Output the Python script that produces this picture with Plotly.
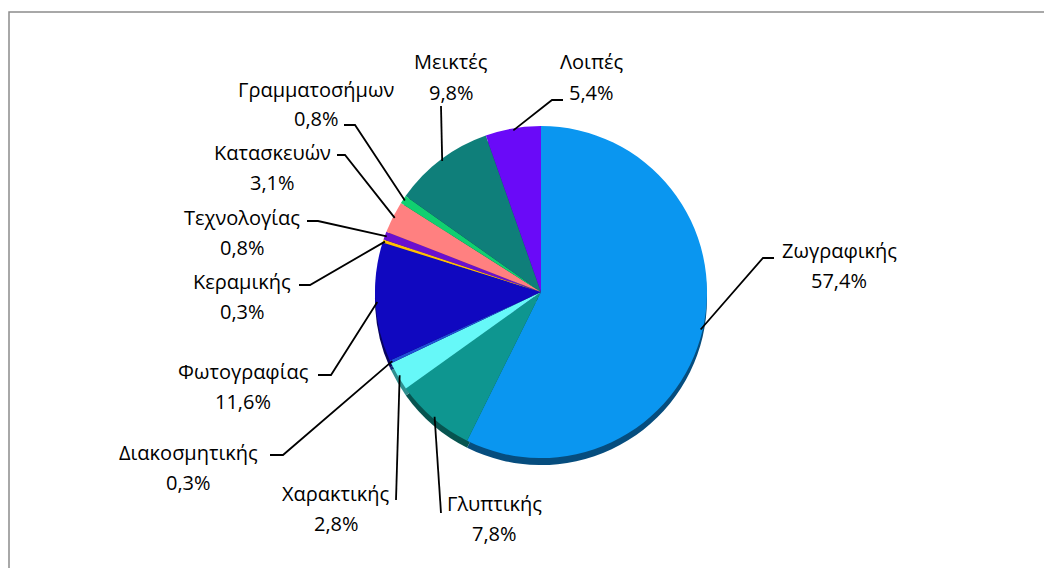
import math
import plotly.graph_objects as go

# ---- data ----
categories = ["Ζωγραφικής", "Γλυπτικής", "Χαρακτικής", "Διακοσμητικής", "Φωτογραφίας",
              "Κεραμικής", "Τεχνολογίας", "Κατασκευών", "Γραμματοσήμων", "Μεικτές", "Λοιπές"]
values = [57.4, 7.8, 2.8, 0.3, 11.6, 0.3, 0.8, 3.1, 0.8, 9.8, 5.4]
value_labels = ["57,4%", "7,8%", "2,8%", "0,3%", "11,6%", "0,3%", "0,8%", "3,1%", "0,8%", "9,8%", "5,4%"]

# ---- styles ----
colors = ["#0A96F0", "#0E9690", "#66F8F8", "#1F4FD8", "#1008C0", "#FFC000",
          "#6A10D0", "#FF8080", "#10D070", "#0F7F7A", "#6A0AF8"]
shadow_colors = ["#064D7E", "#075450", "#2E8F8F", "#0F2A75", "#08045F", "#8A6800",
                 "#3A0875", "#8A4444", "#077040", "#074540", "#3A0590"]

OFF = 8                     # browser body margin
W, H = 1052 - OFF, 568 - OFF
CX, CY, R = 541, 292, 166

# label layout (window pixel positions): name centre, and leader-line elbow/end points
label_pos = [(839, 250), (494, 503), (336, 493), (188, 452), (243, 371),
             (242, 281), (242, 217), (272, 152), (316, 89), (451, 62), (591, 62)]
leader_pts = [
    [(763, 258), (774, 258)],
    [(441, 513)],
    [(396, 500)],
    [(283, 455), (270, 455)],
    [(331, 375), (318, 375)],
    [(310, 285), (299, 285)],
    [(318, 221), (307, 221)],
    [(345, 155), (337, 155)],
    [(355, 125), (344, 125)],
    [(441, 106)],
    [(552, 100), (563, 100)],
]


def px(x):
    return (x - OFF) / W


def py(y):
    return 1 - (y - OFF) / H


fig = go.Figure()

# shadow pie (3D rim)
dy = 7
fig.add_trace(go.Pie(
    labels=categories, values=values, sort=False, direction="clockwise", rotation=0,
    marker=dict(colors=shadow_colors, line=dict(width=0)),
    textinfo="none", hoverinfo="skip", showlegend=False,
    domain=dict(x=[px(CX - R), px(CX + R)], y=[py(CY + dy + R), py(CY + dy - R)]),
))

fig.add_trace(go.Pie(
    labels=categories, values=values, sort=False, direction="clockwise", rotation=0,
    marker=dict(colors=colors, line=dict(width=0)),
    textinfo="none", showlegend=False,
    domain=dict(x=[px(CX - R), px(CX + R)], y=[py(CY + R), py(CY - R)]),
))

shapes = []
annotations = []
total = sum(values)
cum = 0.0
FS = 20
for i, v in enumerate(values):
    mid = (cum + v / 2) / total * 2 * math.pi
    cum += v
    ex = CX + (R - 2) * math.sin(mid)
    ey = CY - (R - 2) * math.cos(mid)
    pts = [(ex, ey)] + leader_pts[i]
    path = "M " + " L ".join(f"{px(x):.5f},{py(y):.5f}" for x, y in pts)
    shapes.append(dict(type="path", path=path, xref="paper", yref="paper",
                       line=dict(color="black", width=1.8)))
    lx, ly = label_pos[i]
    annotations.append(dict(x=px(lx), y=py(ly), xref="paper", yref="paper",
                            text=categories[i], showarrow=False,
                            xanchor="center", yanchor="middle",
                            font=dict(size=FS, color="#000000")))
    annotations.append(dict(x=px(lx), y=py(ly + 30), xref="paper", yref="paper",
                            text=value_labels[i], showarrow=False,
                            xanchor="center", yanchor="middle",
                            font=dict(size=FS, color="#000000")))

# chart-area border
shapes.append(dict(type="rect", xref="paper", yref="paper",
                   x0=px(9), x1=px(1052 + 20), y0=py(568 + 20), y1=py(12),
                   line=dict(color="#8C8C8C", width=1.5), layer="below"))

fig.update_layout(
    width=W, height=H, autosize=False,
    margin=dict(l=0, r=0, t=0, b=0),
    paper_bgcolor="white", plot_bgcolor="white",
    font=dict(family="Open Sans, DejaVu Sans, sans-serif", color="black"),
    shapes=shapes, annotations=annotations,
)

fig.write_html("out.html")
